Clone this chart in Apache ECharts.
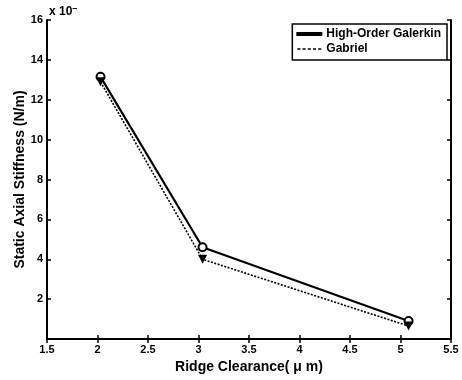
<!DOCTYPE html>
<html>
<head>
<meta charset="utf-8">
<script src="https://cdn.jsdelivr.net/npm/echarts@6/dist/echarts.min.js"></script>
<style>
html,body{margin:0;padding:0;background:#fff;}
#main{width:462px;height:380px;}
</style>
</head>
<body>
<div id="main"></div>
<script>
// 数据
var clearance = [2.03, 3.04, 5.08];
var galerkin = [13.15, 4.6, 0.9];
var gabriel = [12.9, 4.0, 0.65];
var xTicks = [1.5, 2, 2.5, 3, 3.5, 4, 4.5, 5, 5.5];

var myChart = echarts.init(document.getElementById('main'));
var font = 'Liberation Sans, Arial, sans-serif';

function pairs(xs, ys){
	var out = [];
	for (var i = 0; i < xs.length; i++) out.push([xs[i], ys[i]]);
	return out;
}

var option = {
	animation: false,
	backgroundColor: '#fff',
	textStyle: {fontFamily: font},
	grid: {left: 47, right: 11, top: 20, bottom: 41},
	title: {
		text: '{a|x 10}{b|–}',
		left: 44, top: -1,
		textStyle: {
			rich: {
				a: {fontFamily: font, fontWeight: 'bold', fontSize: 12, color: '#000'},
				b: {fontFamily: font, fontWeight: 'bold', fontSize: 9, color: '#000', verticalAlign: 'top', padding: [0, 0, 6, 0]}
			}
		}
	},
	legend: {
		right: 15, top: 24,
		orient: 'vertical',
		itemWidth: 24, itemHeight: 8,
		itemGap: 3,
		padding: [4, 6, 5, 4],
		borderColor: '#000', borderWidth: 1.5,
		backgroundColor: '#fff',
		textStyle: {fontFamily: font, fontWeight: 'bold', fontSize: 12, color: '#000'},
		data: [
			{name: 'High-Order Galerkin', icon: 'path://M0,4 L24,4 L24,6 L0,6 Z', itemStyle: {color: '#000'}},
			{name: 'Gabriel', icon: 'path://M0,4 L3,4 L3,5.5 L0,5.5 Z M5,4 L8,4 L8,5.5 L5,5.5 Z M10,4 L13,4 L13,5.5 L10,5.5 Z M15,4 L18,4 L18,5.5 L15,5.5 Z M20,4 L23,4 L23,5.5 L20,5.5 Z', itemStyle: {color: '#000'}}
		]
	},
	xAxis: [{
		type: 'value', min: 1.5, max: 5.5, interval: 0.5,
		name: 'Ridge Clearance( μ m)', nameLocation: 'middle', nameGap: 21, nameMoveOverlap: false,
		nameTextStyle: {fontFamily: font, fontWeight: 'bold', fontSize: 14, color: '#000'},
		axisLine: {lineStyle: {color: '#000', width: 2}},
		axisTick: {inside: true, length: 4, lineStyle: {color: '#000', width: 1.5}},
		axisLabel: {fontFamily: font, fontWeight: 'bold', fontSize: 11, color: '#000', margin: 5,
			formatter: function(v){ return xTicks.indexOf(v) >= 0 ? String(v) : ''; }},
		splitLine: {show: false}
	}, {
		type: 'value', min: 1.5, max: 5.5, interval: 0.5, position: 'top',
		axisLine: {lineStyle: {color: '#000', width: 2}},
		axisTick: {inside: true, length: 4, lineStyle: {color: '#000', width: 1.5}},
		axisLabel: {show: false}, splitLine: {show: false}
	}],
	yAxis: [{
		type: 'value', min: 0, max: 16, interval: 2,
		name: 'Static Axial Stiffness (N/m)', nameLocation: 'middle', nameGap: 20, nameMoveOverlap: false,
		nameTextStyle: {fontFamily: font, fontWeight: 'bold', fontSize: 14, color: '#000'},
		axisLine: {lineStyle: {color: '#000', width: 2}},
		axisTick: {inside: true, length: 4, lineStyle: {color: '#000', width: 1.5}},
		axisLabel: {fontFamily: font, fontWeight: 'bold', fontSize: 11, color: '#000', margin: 4,
			formatter: function(v){ return v === 0 ? '' : String(v); }},
		splitLine: {show: false}
	}, {
		type: 'value', min: 0, max: 16, interval: 2, position: 'right',
		axisLine: {lineStyle: {color: '#000', width: 2}},
		axisTick: {inside: true, length: 4, lineStyle: {color: '#000', width: 1.5}},
		axisLabel: {show: false}, splitLine: {show: false}
	}],
	series: [{
		name: 'High-Order Galerkin',
		type: 'line',
		data: pairs(clearance, galerkin),
		symbol: 'emptyCircle', symbolSize: 8,
		lineStyle: {color: '#000', width: 2.2},
		itemStyle: {color: '#000', borderColor: '#000', borderWidth: 2}
	}, {
		name: 'Gabriel',
		type: 'line',
		data: pairs(clearance, gabriel),
		symbol: 'triangle', symbolRotate: 180, symbolSize: 9,
		lineStyle: {color: '#000', width: 1.6, type: [2, 1.5]},
		itemStyle: {color: '#000'}
	}]
};
myChart.setOption(option);
</script>
</body>
</html>
